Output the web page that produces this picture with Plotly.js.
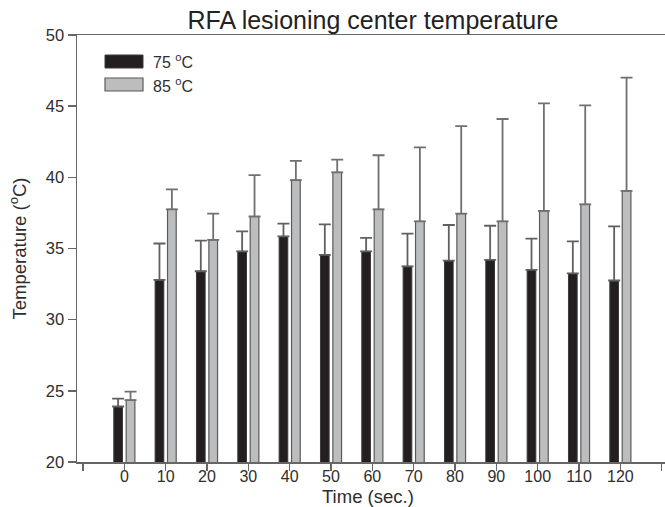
<!DOCTYPE html>
<html>
<head>
<meta charset="utf-8">
<script src="https://cdn.plot.ly/plotly-3.0.1.min.js"></script>
<style>html,body{margin:0;padding:0;background:#fff;}#chart{width:665px;height:507px;}</style>
</head>
<body>
<div id="chart"></div>
<script>
var times = [0, 10, 20, 30, 40, 50, 60, 70, 80, 90, 100, 110, 120];
var tickLabels = ['0','10','20','30','40','50','60','70','80','90','100','110','120'];
var endTicks = [-10, 130];
var series75Name = '75 <sup>o</sup>C';
var series85Name = '85 <sup>o</sup>C';
var mean75 = [23.9, 32.8, 33.4, 34.8, 35.85, 34.55, 34.8, 33.75, 34.15, 34.2, 33.5, 33.25, 32.75];
var err75  = [0.55, 2.55, 2.15, 1.4, 0.9, 2.15, 0.95, 2.3, 2.5, 2.4, 2.2, 2.25, 3.8];
var mean85 = [24.35, 37.75, 35.6, 37.25, 39.8, 40.35, 37.75, 36.9, 37.45, 36.9, 37.65, 38.1, 39.05];
var err85  = [0.6, 1.4, 1.85, 2.9, 1.35, 0.9, 3.8, 5.2, 6.15, 7.2, 7.55, 6.95, 7.95];

var font = 'Liberation Sans, Arial, sans-serif';
var txt = '#2e2e2e';

var trace75 = {
  type: 'bar', x: times, y: mean75, name: series75Name,
  marker: {color: '#231f20', line: {color: '#3a3a3a', width: 1}},
  error_y: {type: 'data', array: err75, arrayminus: times.map(function(){return 0;}), symmetric: false,
            color: '#606060', thickness: 1.8, width: 6}
};
var trace85 = {
  type: 'bar', x: times, y: mean85, name: series85Name,
  marker: {color: '#bcbdbf', line: {color: '#5a5a5a', width: 1.2}},
  error_y: {type: 'data', array: err85, arrayminus: times.map(function(){return 0;}), symmetric: false,
            color: '#707070', thickness: 1.8, width: 6}
};

var W = 665, H = 507, mL = 77, mR = 0, mT = 35, mB = 45;
function px(x){ return (x - mL) / (W - mL - mR); }
function py(y){ return 1 - (y - mT) / (H - mT - mB); }

var layout = {
  width: W, height: H,
  margin: {l: mL, r: mR, t: mT, b: mB},
  paper_bgcolor: '#ffffff', plot_bgcolor: '#ffffff',
  showlegend: false,
  barmode: 'group', bargap: 0.4, bargroupgap: 0.3,
  font: {family: font, color: txt, size: 16},
  title: {text: 'RFA lesioning center temperature', font: {family: font, size: 25, color: '#222'},
          x: 373 / W, xanchor: 'center', y: 1 - 20 / H, yanchor: 'middle'},
  xaxis: {
    range: [-11.45, 130.8], tickmode: 'array', tickvals: times, ticktext: tickLabels,
    ticks: 'outside', ticklen: 7, tickwidth: 1.5, tickcolor: '#666',
    minor: {tickmode: 'array', tickvals: endTicks, ticks: 'outside', ticklen: 7, tickwidth: 1.5, tickcolor: '#666', showgrid: false},
    showline: true, linecolor: '#666', linewidth: 1.5, mirror: true,
    showgrid: false, zeroline: false, ticklabelstandoff: -8,
    tickfont: {family: font, size: 16, color: txt}
  },
  yaxis: {
    range: [20, 50], dtick: 5, tick0: 20,
    ticks: 'outside', ticklen: 8, tickwidth: 1.5, tickcolor: '#666',
    showline: true, linecolor: '#666', linewidth: 1.5,
    showgrid: false, zeroline: false,
    tickfont: {family: font, size: 16.5, color: txt},
    title: {text: 'Temperature (<sup>o</sup>C)', font: {family: font, size: 18.5, color: txt}, standoff: 14}
  },
  shapes: [
    {type: 'rect', xref: 'paper', yref: 'paper', x0: px(105), x1: px(143), y0: py(55), y1: py(68),
     fillcolor: '#231f20', line: {color: '#3a3a3a', width: 1}},
    {type: 'rect', xref: 'paper', yref: 'paper', x0: px(105), x1: px(143), y0: py(78), y1: py(91),
     fillcolor: '#bcbdbf', line: {color: '#5a5a5a', width: 1.2}}
  ],
  annotations: [
    {xref: 'paper', yref: 'paper', x: px(151), y: py(61.5), xanchor: 'left', yanchor: 'middle',
     text: series75Name, showarrow: false, font: {family: font, size: 16, color: txt}},
    {xref: 'paper', yref: 'paper', x: px(151), y: py(84.5), xanchor: 'left', yanchor: 'middle',
     text: series85Name, showarrow: false, font: {family: font, size: 16, color: txt}},
    {xref: 'paper', yref: 'paper', x: px(368), y: py(496), xanchor: 'center', yanchor: 'middle',
     text: 'Time (sec.)', showarrow: false, font: {family: font, size: 18.5, color: txt}}
  ]
};

Plotly.newPlot('chart', [trace75, trace85], layout, {displayModeBar: false, staticPlot: true});
</script>
</body>
</html>
